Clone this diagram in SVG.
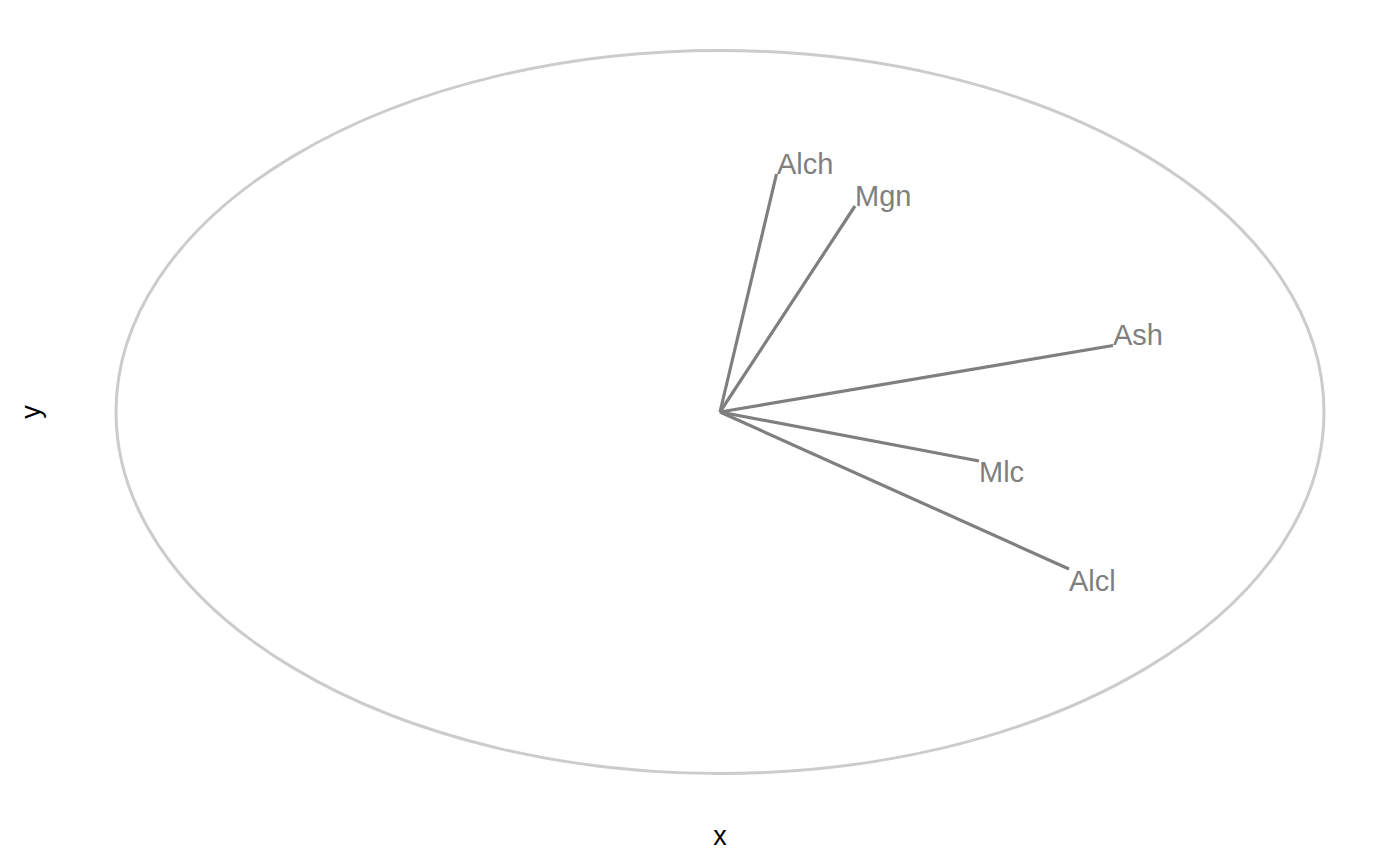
<svg xmlns="http://www.w3.org/2000/svg" width="1400" height="866" viewBox="0 0 1400 866">
<style>
.vec{stroke:#7F7F7F;stroke-width:3.2;fill:none;stroke-linecap:butt}
.lab{font-family:"Liberation Sans",Arial,sans-serif;font-size:29px;fill:#7F7F7F}
.axis{font-family:"Liberation Sans",Arial,sans-serif;font-size:27px;fill:#000000}
</style>
<rect width="1400" height="866" fill="#FFFFFF"/>
<g id="circle">
<ellipse cx="720" cy="412" rx="604" ry="361.5" fill="none" stroke="#CCCCCC" stroke-width="3"/>
</g>
<g id="connectors">
<line class="vec" x1="720" y1="412" x2="776.5" y2="174"/>
<line class="vec" x1="720" y1="412" x2="855" y2="206"/>
<line class="vec" x1="720" y1="412" x2="1113" y2="345.5"/>
<line class="vec" x1="720" y1="412" x2="979" y2="461"/>
<line class="vec" x1="720" y1="412" x2="1069" y2="569"/>
</g>
<g id="Alch"><text class="lab" x="777" y="174">Alch</text></g>
<g id="Mgn"><text class="lab" x="855" y="206">Mgn</text></g>
<g id="Ash"><text class="lab" x="1113" y="345">Ash</text></g>
<g id="Mlc"><text class="lab" x="979" y="482">Mlc</text></g>
<g id="Alcl"><text class="lab" x="1069" y="591">Alcl</text></g>
<g id="axes">
<text class="axis" x="720" y="845" text-anchor="middle">x</text>
<text class="axis" x="0" y="0" text-anchor="middle" transform="translate(40,412) rotate(-90)">y</text>
</g>
</svg>
